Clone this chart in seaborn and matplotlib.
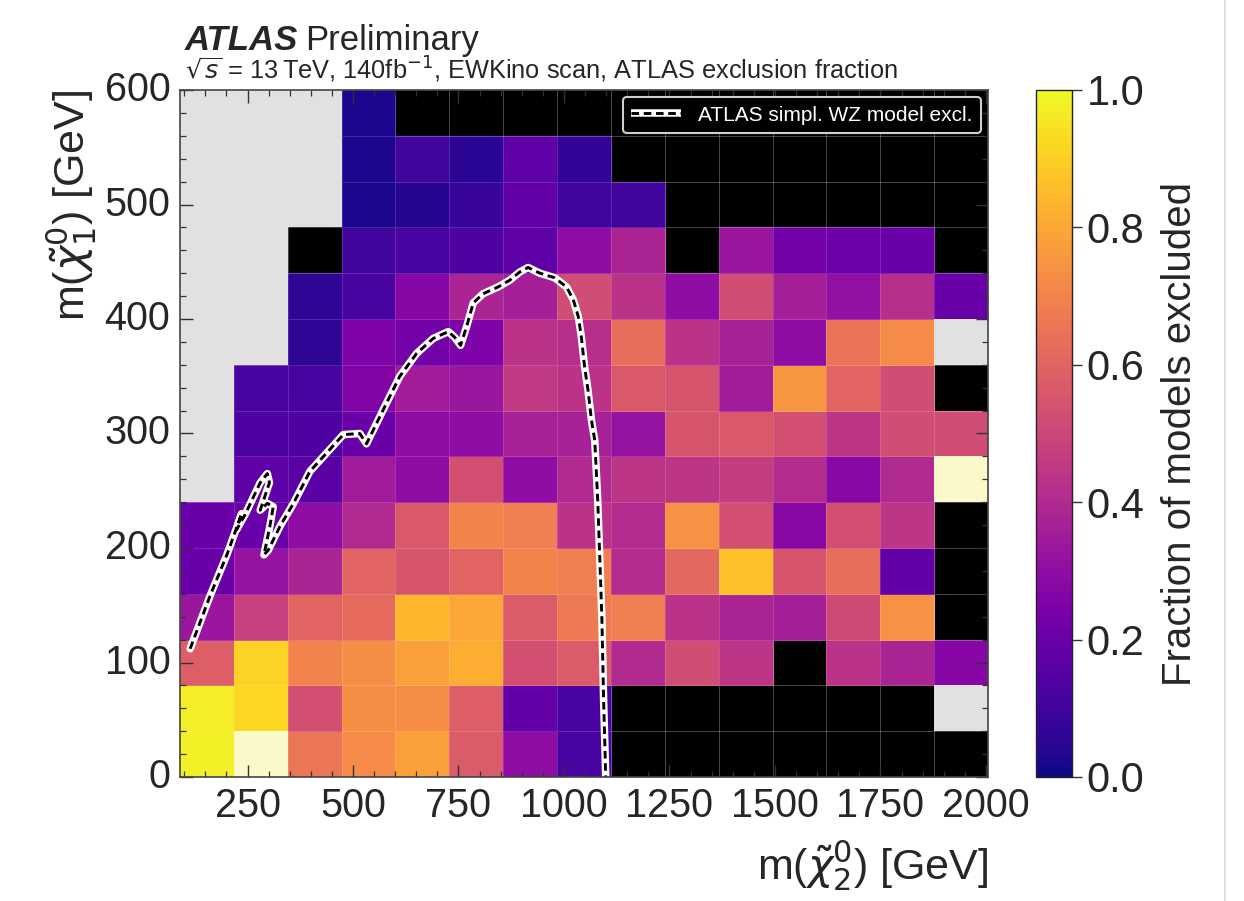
import numpy as np
import pandas as pd
import matplotlib
matplotlib.use("Agg")
import matplotlib.pyplot as plt
from matplotlib.colors import ListedColormap
from matplotlib.lines import Line2D
import seaborn as sns

# ---------------- data ----------------
# m(chi2) bin range and m(chi1) bin range (15 x 15 bins)
m2_range = (90.0, 2005.0)
m1_range = (0.0, 600.0)
n_bins = 15

G = "G"   # not in scan (grey)
K = "K"   # no models (black)
W = "W"   # pale cell

# rows from m1 = 0-40 (bottom) to 560-600 (top); columns in m2 order
frac_rows = [
    [0.98, W,    0.66, 0.72, 0.78, 0.57, 0.30, 0.12, K,    K,    K,    K,    K,    K,    K],
    [0.97, 0.92, 0.53, 0.73, 0.73, 0.58, 0.18, 0.12, K,    K,    K,    K,    K,    K,    G],
    [0.58, 0.91, 0.70, 0.73, 0.78, 0.82, 0.53, 0.57, 0.40, 0.52, 0.44, K,    0.43, 0.38, 0.27],
    [0.33, 0.48, 0.60, 0.62, 0.84, 0.80, 0.57, 0.67, 0.68, 0.43, 0.38, 0.36, 0.51, 0.74, K],
    [0.20, 0.32, 0.38, 0.60, 0.55, 0.60, 0.70, 0.68, 0.41, 0.61, 0.87, 0.55, 0.63, 0.18, K],
    [0.20, 0.20, 0.30, 0.40, 0.56, 0.70, 0.68, 0.43, 0.41, 0.74, 0.53, 0.28, 0.53, 0.44, K],
    [G,    0.17, 0.16, 0.35, 0.30, 0.53, 0.30, 0.40, 0.44, 0.44, 0.47, 0.41, 0.28, 0.40, W],
    [G,    0.13, 0.13, 0.20, 0.30, 0.30, 0.37, 0.37, 0.32, 0.55, 0.56, 0.53, 0.44, 0.52, 0.52],
    [G,    0.12, 0.12, 0.26, 0.35, 0.33, 0.45, 0.43, 0.56, 0.55, 0.35, 0.75, 0.60, 0.52, K],
    [G,    G,    0.06, 0.25, 0.22, 0.25, 0.43, 0.42, 0.63, 0.43, 0.37, 0.30, 0.65, 0.72, G],
    [G,    G,    0.06, 0.12, 0.27, 0.38, 0.36, 0.52, 0.43, 0.30, 0.52, 0.36, 0.31, 0.42, 0.20],
    [G,    G,    K,    0.10, 0.12, 0.13, 0.17, 0.30, 0.38, K,    0.33, 0.22, 0.21, 0.20, K],
    [G,    G,    G,    0.02, 0.04, 0.08, 0.18, 0.10, 0.10, K,    K,    K,    K,    K,    K],
    [G,    G,    G,    0.02, 0.10, 0.05, 0.17, 0.07, K,    K,    K,    K,    K,    K,    K],
    [G,    G,    G,    0.02, K,    K,    K,    K,    K,    K,    K,    K,    K,    K,    K],
]

# ATLAS simplified WZ model exclusion contour (m2, m1) in GeV
contour_m2 = [114, 161, 201, 208, 236, 224, 244, 280, 297, 302, 291, 280, 297, 311,
              303, 289, 299, 327, 359, 398, 445, 477, 516, 532, 572, 611, 651, 690,
              726, 741, 755, 769, 785, 808, 844, 872, 895, 915, 943, 978, 1006, 1022,
              1034, 1041, 1049, 1057, 1065, 1073, 1080, 1085, 1090, 1094, 1099]
contour_m1 = [112, 158, 194, 201, 230, 216, 229, 257, 265, 257, 245, 233, 239, 236,
              219, 194, 198, 219, 239, 267, 286, 299, 300, 291, 321, 350, 370, 383,
              389, 384, 377, 393, 414, 422, 428, 434, 441, 445, 440, 436, 428, 417,
              402, 385, 358, 338, 312, 294, 242, 190, 137, 67, 0]

x_tick_values = [250, 500, 750, 1000, 1250, 1500, 1750, 2000]
y_tick_values = [0, 100, 200, 300, 400, 500, 600]
cbar_tick_values = [0.0, 0.2, 0.4, 0.6, 0.8, 1.0]

legend_label = "ATLAS simpl. WZ model excl."
cbar_label = "Fraction of models excluded"

# ---------------- build matrices ----------------
grid = np.array(frac_rows, dtype=object)
is_num = np.vectorize(lambda v: not isinstance(v, str))(grid)
is_black = grid == K
is_pale = grid == W
is_grey = grid == G
frac = np.where(is_num, grid, np.nan).astype(float)
df_frac = pd.DataFrame(frac)
df_one = pd.DataFrame(np.zeros(frac.shape))

bw = (m2_range[1] - m2_range[0]) / n_bins
bh = (m1_range[1] - m1_range[0]) / n_bins
def to_cx(m2):
    return (np.asarray(m2, float) - m2_range[0]) / bw
def to_cy(m1):
    return (np.asarray(m1, float) - m1_range[0]) / bh

# ---------------- style ----------------
sns.set_style("white")
plt.rcParams["font.family"] = ["Liberation Sans", "DejaVu Sans"]
plt.rcParams["mathtext.fontset"] = "dejavusans"

W_PX, H_PX = 1244, 901
fig = plt.figure(figsize=(W_PX / 100, H_PX / 100), dpi=100)
ax = fig.add_axes([180 / W_PX, (H_PX - 777) / H_PX, 808 / W_PX, 687 / H_PX])
cax = fig.add_axes([1036 / W_PX, (H_PX - 777) / H_PX, 36 / W_PX, 687 / H_PX])
ax.set_facecolor("#e1e1e1")

edge = (1, 1, 1, 0.15)
# black "no model" cells
sns.heatmap(df_one, mask=~is_black, cmap=ListedColormap(["black"]), vmin=0, vmax=1,
            cbar=False, ax=ax, linewidths=0)
# fraction cells (this layer carries the faint cell grid)
sns.heatmap(df_frac, mask=~is_num, cmap="plasma", vmin=0, vmax=1, cbar=True,
            cbar_ax=cax, ax=ax, linewidths=0.7, linecolor=edge)
# pale cells
sns.heatmap(df_one, mask=~is_pale, cmap=ListedColormap(["#fbf9c9"]), vmin=0, vmax=1,
            cbar=False, ax=ax, linewidths=0)
# grey (outside scan) cells, no grid
sns.heatmap(df_one, mask=~is_grey, cmap=ListedColormap(["#e1e1e1"]), vmin=0, vmax=1,
            cbar=False, ax=ax, linewidths=0)

ax.set_xlim(0, n_bins)
ax.set_ylim(0, n_bins)
ax.set_axisbelow(False)

# contour line
cx, cy = to_cx(contour_m2), to_cy(contour_m1)
ax.plot(cx, cy, color="white", lw=5.4, solid_capstyle="round", solid_joinstyle="round", zorder=5)
ax.plot(cx, cy, color="black", lw=2.1, ls=(0, (2.6, 1.6)), zorder=6)

# ticks
ax.set_xticks(to_cx(x_tick_values), [str(v) for v in x_tick_values])
minor_x = [v for v in range(100, 2001, 50) if v not in x_tick_values]
ax.set_xticks(to_cx(minor_x), minor=True)
ax.set_yticks(to_cy(y_tick_values), [str(v) for v in y_tick_values])
minor_y = [v for v in range(0, 601, 20) if v not in y_tick_values]
ax.set_yticks(to_cy(minor_y), minor=True)
ax.tick_params(axis="both", which="both", direction="in", top=True, right=True,
               bottom=True, left=True, color="#333333", labelsize=28.5)
ax.tick_params(axis="both", which="major", length=9, width=1.0, pad=7)
ax.tick_params(axis="both", which="minor", length=4.5, width=0.9)
ax.tick_params(axis="y", labelrotation=0)
ax.tick_params(axis="x", labelrotation=0)
for s in ax.spines.values():
    s.set_visible(True)
    s.set_color("#444444")
    s.set_linewidth(1.2)
    s.set_zorder(7)

ax.set_xlabel(r"m($\tilde{\chi}_{2}^{0}$) [GeV]", fontsize=31, loc="right", labelpad=10)
ax.set_ylabel(r"m($\tilde{\chi}_{1}^{0}$) [GeV]", fontsize=31, loc="top", labelpad=4)

# colorbar
cb = ax.collections[1].colorbar
cb.outline.set_linewidth(1.0)
cb.outline.set_edgecolor("#222222")
cb.set_ticks(cbar_tick_values)
cb.set_ticklabels([f"{v:.1f}" for v in cbar_tick_values])
cax.tick_params(labelsize=30, length=7, width=1.0, direction="out", color="#333333")
cb.set_label(cbar_label, fontsize=29, labelpad=12)

# legend
h_white = Line2D([], [], color="white", lw=5.4, solid_capstyle="butt")
h_dash = Line2D([], [], color="black", lw=2.1, ls=(0, (2.6, 1.6)))
leg = ax.legend([(h_white, h_dash)], [legend_label], loc="upper right", frameon=True,
                facecolor="black", edgecolor="#cfcfcf", framealpha=1.0, fontsize=15,
                handlelength=2.4, borderaxespad=0.35, fancybox=True)
leg.get_frame().set_linewidth(1.5)
leg.set_zorder(8)
for t in leg.get_texts():
    t.set_color("white")

# header
fig.text(185 / W_PX, 1 - 50 / H_PX, "ATLAS", fontsize=25, fontweight="bold",
         fontstyle="italic", va="baseline", ha="left")
fig.text(305 / W_PX, 1 - 50 / H_PX, "Preliminary", fontsize=25, va="baseline", ha="left")
fig.text(185 / W_PX, 1 - 79 / H_PX,
         r"$\sqrt{s}$ = 13$\,$TeV, 140fb$^{-1}$, EWKino scan, ATLAS exclusion fraction",
         fontsize=18.3, va="baseline", ha="left")

# screenshot border line
fig.add_artist(Line2D([1225 / W_PX, 1225 / W_PX], [0, 1], color="#dcdcdc", lw=1.2))

fig.savefig("out.png", dpi=100)
